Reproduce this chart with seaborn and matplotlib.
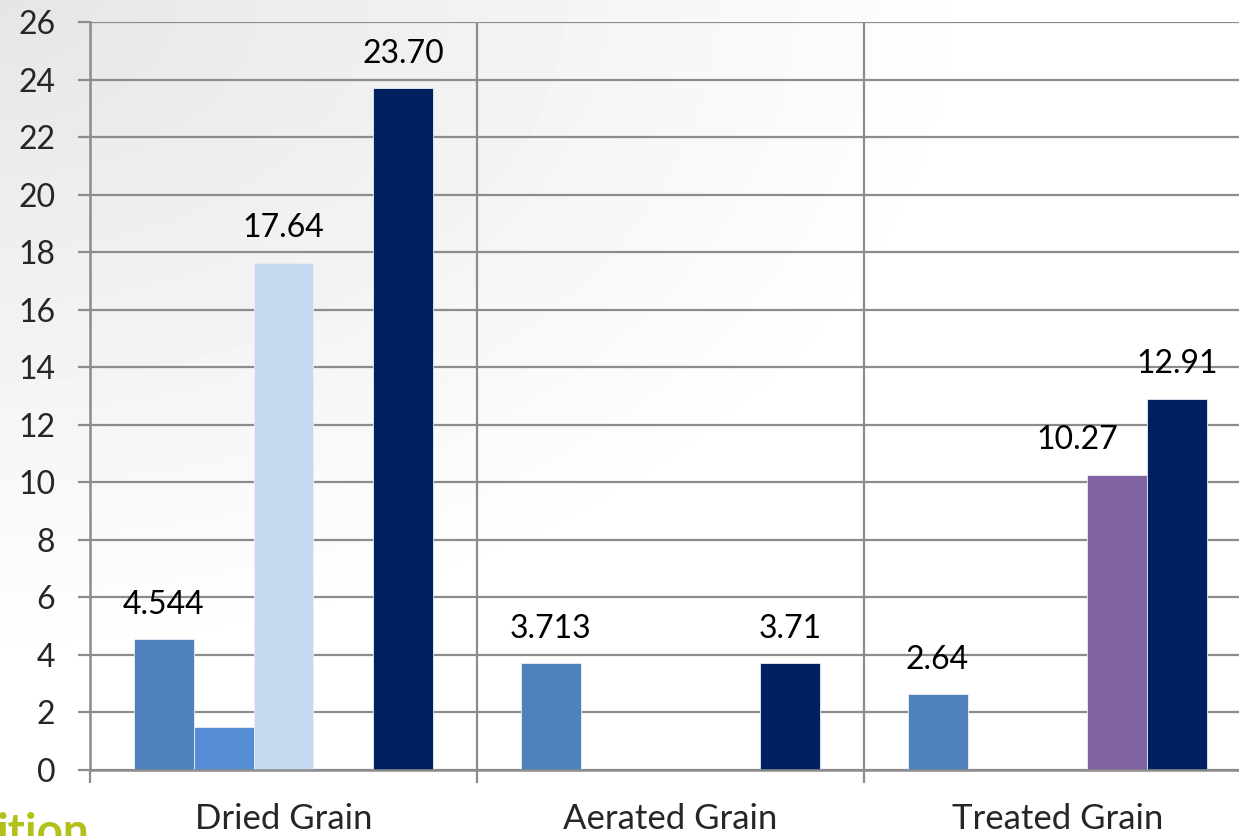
import numpy as np
import pandas as pd
import matplotlib
matplotlib.use("Agg")
import matplotlib.pyplot as plt
import seaborn as sns

# Chart data
categories = ["Dried Grain", "Aerated Grain", "Treated Grain"]
series = ["S1", "S2", "S3", "S4", "S5"]
s1_values = [4.544, 3.713, 2.64]
s2_values = [1.5, np.nan, np.nan]
s3_values = [17.64, np.nan, np.nan]
s4_values = [np.nan, np.nan, 10.27]
s5_values = [23.70, 3.71, 12.91]
s1_labels = ["4.544", "3.713", "2.64"]
s2_labels = [None, None, None]
s3_labels = ["17.64", None, None]
s4_labels = [None, None, "10.27"]
s5_labels = ["23.70", "3.71", "12.91"]
y_ticks = list(range(0, 27, 2))

colors = ["#4f81bd", "#558ed5", "#c6d9f1", "#8064a2", "#002060"]

values_by_series = [s1_values, s2_values, s3_values, s4_values, s5_values]
labels_by_series = [s1_labels, s2_labels, s3_labels, s4_labels, s5_labels]

rows = []
for name, vals in zip(series, values_by_series):
    for cat, v in zip(categories, vals):
        if not np.isnan(v):
            rows.append({"category": cat, "series": name, "value": v})
df = pd.DataFrame(rows)

sns.set_style("white")
plt.rcParams["font.family"] = ["Lato", "DejaVu Sans"]

W, H = 1239, 836
fig = plt.figure(figsize=(W / 100, H / 100), dpi=100)

# Soft grey backdrop fading out from the top-left corner
bg = fig.add_axes([0, 0, 1, 1], zorder=-10)
yy, xx = np.mgrid[0:H, 0:W]
d = np.sqrt((xx / W) ** 2 + (yy / H) ** 2)
shade = 0.90 + 0.10 * np.clip(d / 0.8, 0, 1)
bg.imshow(shade, cmap="gray", vmin=0, vmax=1, aspect="auto",
          extent=[0, 1, 0, 1], interpolation="bilinear")
bg.set_axis_off()

ax = fig.add_axes([90 / W, 66 / H, 1161 / W, 748 / H])
ax.set_facecolor("none")

sns.barplot(data=df, x="category", y="value", hue="series",
            order=categories, hue_order=series, palette=colors,
            width=0.775, dodge=True, errorbar=None, legend=False,
            edgecolor="#e8eef7", linewidth=0.6, saturation=1, ax=ax)

# Value labels; the purple label is nudged left so it clears its neighbour
for container, name, vals, labs in zip(ax.containers, series,
                                       values_by_series, labels_by_series):
    present = [lab for v, lab in zip(vals, labs) if not np.isnan(v)]
    texts = [lab if lab is not None else "" for lab in present]
    anns = ax.bar_label(container, labels=texts, padding=14, fontsize=23,
                        color="black")
    if name == "S4":
        for a in anns:
            a.xyann = (-29, 14)

grid_c = "#8c8c8c"
ax.set_ylim(0, 26)
ax.set_yticks(y_ticks)
ax.set_xlim(-0.5, 2.5)
ax.set_xticks(range(len(categories)))
ax.set_xticklabels(categories)
ax.set_xticks([-0.5, 0.5, 1.5, 2.5], minor=True)

ax.yaxis.grid(True, color=grid_c, linewidth=1.6)
ax.xaxis.grid(True, which="minor", color=grid_c, linewidth=1.6)
ax.xaxis.grid(False, which="major")
ax.set_axisbelow(True)

for side in ["top", "right"]:
    ax.spines[side].set_visible(False)
for side in ["left", "bottom"]:
    ax.spines[side].set_color(grid_c)
    ax.spines[side].set_linewidth(1.8)

ax.tick_params(axis="y", direction="out", length=9, width=1.6, color=grid_c,
               labelsize=23, pad=16, left=True)
ax.tick_params(axis="x", which="major", length=0, labelsize=25, pad=24)
ax.tick_params(axis="x", which="minor", direction="out", length=9,
               width=1.6, color=grid_c, bottom=True)
ax.set_xlabel("")
ax.set_ylabel("")

fig.text(-0.003, -0.012, "ition", fontsize=33, fontweight="bold",
         color="#b3c01b", ha="left", va="baseline")

fig.savefig("out.png", dpi=100)
